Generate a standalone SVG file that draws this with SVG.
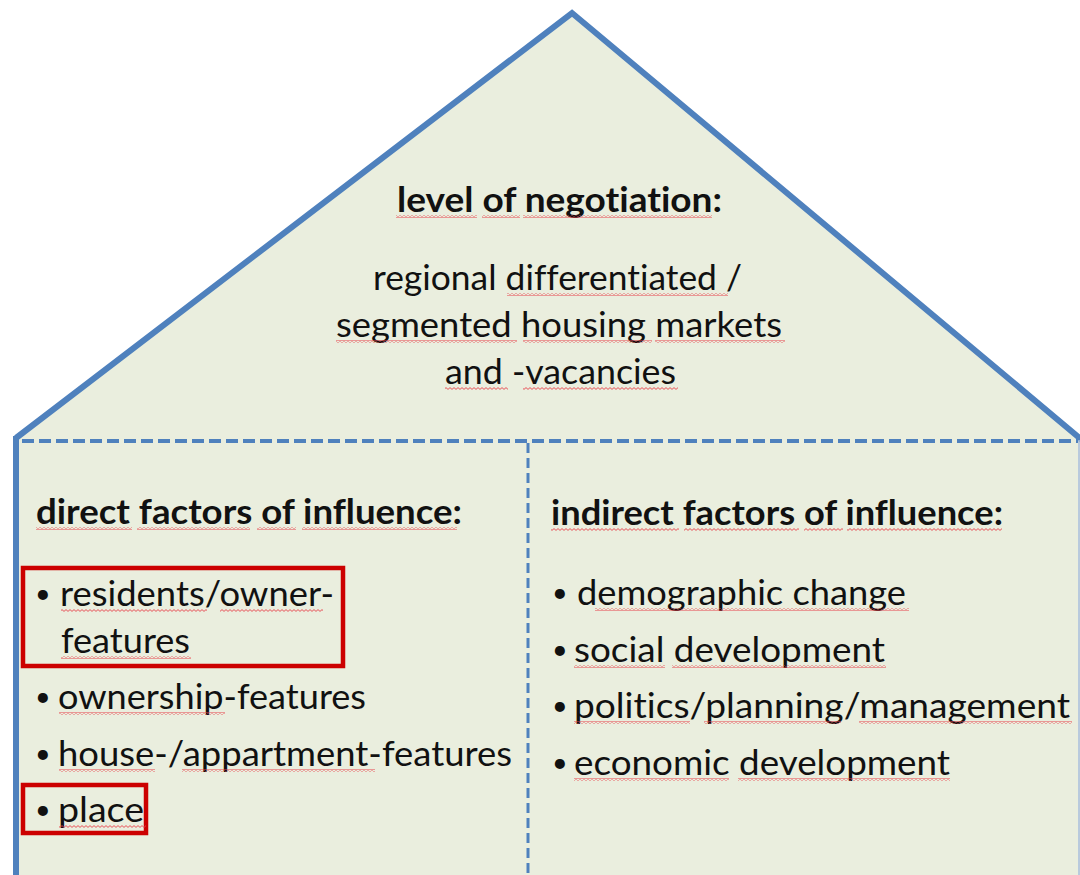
<svg xmlns="http://www.w3.org/2000/svg" width="1080" height="875" viewBox="0 0 1080 875">
<style>
.t{font-family:Lato,"Open Sans","Liberation Sans",sans-serif;font-size:35px;fill:#111;font-variant-ligatures:none;font-feature-settings:"liga" 0,"clig" 0}
.b{font-weight:bold}
.bu{font-family:Lato,"Liberation Sans",sans-serif;font-size:27px;fill:#111}
.sq{fill:url(#squig)}
.hl{fill:none;stroke:#CC0000;stroke-width:4.5}
</style>
<defs>
<pattern id="squig" x="0" y="0" width="4" height="3" patternUnits="userSpaceOnUse">
<path d="M0 2.4 L2 0.6 L4 2.4" fill="none" stroke="#E8404A" stroke-width="0.9"/>
</pattern>
</defs>
<rect width="1080" height="875" fill="#ffffff"/>
<g id="house">
<path d="M16 438 L572 13 L1080 438 L1080 875 L16 875 Z" fill="#EAEEDE"/>
<path d="M16 438 L572 13 L1082 440" fill="none" stroke="#4F81BD" stroke-width="6" stroke-linejoin="miter"/>
<line x1="16" y1="436" x2="16" y2="875" stroke="#4F81BD" stroke-width="6"/>
<line x1="1079" y1="440" x2="1079" y2="875" stroke="#A9BEDC" stroke-width="1.5"/>
</g>
<g id="connectors">
<line x1="22" y1="441" x2="1078" y2="441" stroke="#4F81BD" stroke-width="4" stroke-dasharray="12 5"/>
<line x1="528" y1="443" x2="528" y2="875" stroke="#4F81BD" stroke-width="3" stroke-dasharray="10 5"/>
</g>
<g id="roof-text">
<text class="t b" x="397" y="212" textLength="325" lengthAdjust="spacingAndGlyphs">level of negotiation:</text>
<text class="t" x="373" y="290" textLength="369" lengthAdjust="spacingAndGlyphs">regional differentiated /</text>
<text class="t" x="336" y="337" textLength="446" lengthAdjust="spacingAndGlyphs">segmented housing markets</text>
<text class="t" x="445" y="384" textLength="231" lengthAdjust="spacingAndGlyphs">and -vacancies</text>
</g>
<g id="direct-factors">
<text class="t b" x="36" y="524" textLength="426" lengthAdjust="spacingAndGlyphs">direct factors of influence:</text>
<text class="bu" x="35" y="603">•</text>
<text class="t" x="60" y="606" textLength="274" lengthAdjust="spacingAndGlyphs">residents/owner-</text>
<text class="t" x="61" y="653" textLength="129" lengthAdjust="spacingAndGlyphs">features</text>
<text class="bu" x="35" y="706">•</text>
<text class="t" x="58" y="709" textLength="308" lengthAdjust="spacingAndGlyphs">ownership-features</text>
<text class="bu" x="35" y="763">•</text>
<text class="t" x="58" y="766" textLength="454" lengthAdjust="spacingAndGlyphs">house-/appartment-features</text>
<text class="bu" x="35" y="819">•</text>
<text class="t" x="58" y="822" textLength="86" lengthAdjust="spacingAndGlyphs">place</text>
<rect class="hl" x="23" y="568" width="320" height="98"/>
<rect class="hl" x="23" y="785" width="123" height="48"/>
</g>
<g id="indirect-factors">
<text class="t b" x="551" y="525" textLength="452" lengthAdjust="spacingAndGlyphs">indirect factors of influence:</text>
<text class="bu" x="552" y="602">•</text>
<text class="t" x="577" y="605" textLength="329" lengthAdjust="spacingAndGlyphs">demographic change</text>
<text class="bu" x="552" y="659">•</text>
<text class="t" x="574" y="662" textLength="311" lengthAdjust="spacingAndGlyphs">social development</text>
<text class="bu" x="552" y="715">•</text>
<text class="t" x="574" y="718" textLength="496" lengthAdjust="spacingAndGlyphs">politics/planning/management</text>
<text class="bu" x="552" y="772">•</text>
<text class="t" x="574" y="775" textLength="376" lengthAdjust="spacingAndGlyphs">economic development</text>
</g>
<g id="spellcheck">
<rect class="sq" x="396" y="215" width="81" height="3"/>
<rect class="sq" x="482" y="215" width="38" height="3"/>
<rect class="sq" x="523" y="215" width="189" height="3"/>
<rect class="sq" x="507" y="293" width="221" height="3"/>
<rect class="sq" x="336" y="340" width="181" height="3"/>
<rect class="sq" x="523" y="340" width="129" height="3"/>
<rect class="sq" x="655" y="340" width="130" height="3"/>
<rect class="sq" x="445" y="387" width="63" height="3"/>
<rect class="sq" x="523" y="387" width="155" height="3"/>
<rect class="sq" x="36" y="527" width="96" height="3"/>
<rect class="sq" x="137" y="527" width="113" height="3"/>
<rect class="sq" x="257" y="527" width="39" height="3"/>
<rect class="sq" x="302" y="527" width="155" height="3"/>
<rect class="sq" x="61" y="609" width="146" height="3"/>
<rect class="sq" x="220" y="609" width="103" height="3"/>
<rect class="sq" x="61" y="656" width="130" height="3"/>
<rect class="sq" x="59" y="712" width="166" height="3"/>
<rect class="sq" x="59" y="769" width="96" height="3"/>
<rect class="sq" x="182" y="769" width="193" height="3"/>
<rect class="sq" x="59" y="825" width="87" height="3"/>
<rect class="sq" x="551" y="528" width="128" height="3"/>
<rect class="sq" x="684" y="528" width="115" height="3"/>
<rect class="sq" x="804" y="528" width="39" height="3"/>
<rect class="sq" x="847" y="528" width="155" height="3"/>
<rect class="sq" x="595" y="608" width="314" height="3"/>
<rect class="sq" x="574" y="665" width="91" height="3"/>
<rect class="sq" x="672" y="665" width="214" height="3"/>
<rect class="sq" x="574" y="721" width="116" height="3"/>
<rect class="sq" x="704" y="721" width="137" height="3"/>
<rect class="sq" x="859" y="721" width="213" height="3"/>
<rect class="sq" x="574" y="778" width="155" height="3"/>
<rect class="sq" x="738" y="778" width="212" height="3"/>
</g>
</svg>
